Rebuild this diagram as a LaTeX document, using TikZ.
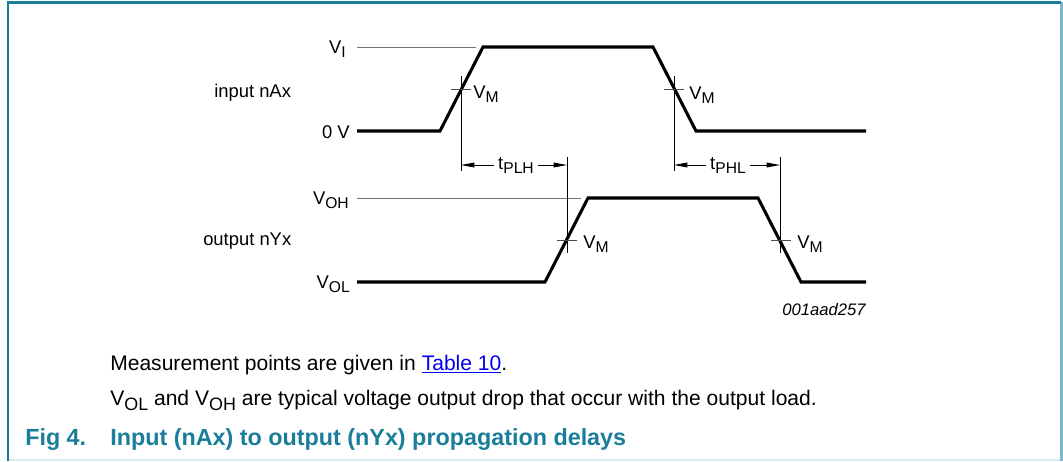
\documentclass[tikz,border=0pt]{standalone}
\usepackage{fontspec}
\setmainfont{Liberation Sans}
\usepackage{graphicx}
\usetikzlibrary{arrows.meta}
\definecolor{nxpteal}{HTML}{1A7D9A}
\definecolor{frameR}{HTML}{7DB7CB}
\definecolor{frameB}{HTML}{DDEBF1}
\definecolor{linkblue}{HTML}{0000EE}
\newcommand\lsub[1]{\raisebox{-0.45ex}{\scalebox{0.85}{#1}}}
\begin{document}
\begin{tikzpicture}[x=0.75pt,y=-0.75pt,
  wave/.style={line width=2.3pt, line join=miter},
  refline/.style={line width=0.75pt, draw=black!55},
  mline/.style={line width=0.6pt},
  tick/.style={line width=0.75pt, draw=black!70},
  lbl/.style={font=\fontsize{13.8}{16}\selectfont, inner sep=0pt},
  body/.style={font=\fontsize{15.8}{18}\selectfont, inner sep=0pt, anchor=base west},
  capt/.style={font=\fontsize{17.5}{20}\bfseries\selectfont, text=nxpteal, inner sep=0pt, anchor=base west},
  dimarrow/.style={line width=0.6pt, -{Triangle[length=10pt,width=3.6pt]}}]
\useasboundingbox (0,0) rectangle (1063,461);
% frame
\draw[line width=1.5pt, draw=frameB] (8,460) -- (1061,460);
\draw[line width=1.8pt, draw=frameR] (1061.5,2) -- (1061.5,461);
\draw[line width=1.6pt, draw=nxpteal] (8,461) -- (8,2.5) -- (1061,2.5);

% input waveform
\coordinate (i0) at (357,131);
\coordinate (i1) at (440,131);
\coordinate (i2) at (483,47);
\coordinate (i3) at (653,47);
\coordinate (i4) at (696,131);
\coordinate (i5) at (866,131);
\coordinate (vi0) at (357,47);
\coordinate (vi1) at (476,47);
\draw[refline] (vi0) -- (vi1);
\draw[wave] (i0) -- (i1) -- (i2) -- (i3) -- (i4) -- (i5);

% output waveform
\coordinate (o0) at (357,282);
\coordinate (o1) at (545,282);
\coordinate (o2) at (588,198);
\coordinate (o3) at (758,198);
\coordinate (o4) at (801,282);
\coordinate (o5) at (866,282);
\coordinate (voh0) at (357,198);
\coordinate (voh1) at (581,198);
\draw[refline] (voh0) -- (voh1);
\draw[wave] (o0) -- (o1) -- (o2) -- (o3) -- (o4) -- (o5);

% measurement verticals
\coordinate (m1t) at (461,76);  \coordinate (m1b) at (461,171);
\coordinate (m2t) at (674,76);  \coordinate (m2b) at (674,171);
\coordinate (m3t) at (567,157); \coordinate (m3b) at (567,253);
\coordinate (m4t) at (780,157); \coordinate (m4b) at (780,253);
\draw[mline] (m1t) -- (m1b);
\draw[mline] (m2t) -- (m2b);
\draw[mline] (m3t) -- (m3b);
\draw[mline] (m4t) -- (m4b);

% VM ticks
\coordinate (k1a) at (451,89); \coordinate (k1b) at (471,89);
\coordinate (k2a) at (664,89); \coordinate (k2b) at (684,89);
\coordinate (k3a) at (557,240); \coordinate (k3b) at (577,240);
\coordinate (k4a) at (771,240); \coordinate (k4b) at (791,240);
\draw[tick] (k1a) -- (k1b);
\draw[tick] (k2a) -- (k2b);
\draw[tick] (k3a) -- (k3b);
\draw[tick] (k4a) -- (k4b);

% level labels
\node[lbl, anchor=base east] (lVI) at (346,53) {V\lsub{I}};
\node[lbl, anchor=base east] (l0V) at (350,138) {0 V};
\node[lbl, anchor=base east] (lVOH) at (349,204) {V\lsub{OH}};
\node[lbl, anchor=base east] (lVOL) at (350,288) {V\lsub{OL}};
\node[lbl, anchor=base west] (lin) at (214,97) {input nAx};
\node[lbl, anchor=base west] (lout) at (203,245) {output nYx};

% VM labels
\node[lbl, anchor=base west] (vm1) at (473,98) {V\lsub{M}};
\node[lbl, anchor=base west] (vm2) at (689,99) {V\lsub{M}};
\node[lbl, anchor=base west] (vm3) at (583,248) {V\lsub{M}};
\node[lbl, anchor=base west] (vm4) at (797,248) {V\lsub{M}};

% delay labels and arrows
\node[lbl, anchor=base] (tplh) at (516,169) {t\lsub{PLH}};
\node[lbl, anchor=base] (tphl) at (728,169) {t\lsub{PHL}};
\coordinate (a1l) at (461,165); \coordinate (a1r) at (567,165);
\coordinate (a2l) at (674,165); \coordinate (a2r) at (780,165);
\draw[dimarrow] ([xshift=-3pt]tplh.west |- a1l) -- (a1l);
\draw[dimarrow] ([xshift=3pt]tplh.east |- a1r) -- (a1r);
\draw[dimarrow] ([xshift=-3pt]tphl.west |- a2l) -- (a2l);
\draw[dimarrow] ([xshift=3pt]tphl.east |- a2r) -- (a2r);

% figure id
\node[lbl, anchor=base east, font=\fontsize{12.5}{14}\itshape\selectfont] (fid) at (866,315) {001aad257};

% notes
\node[body] (n1) at (110,370) {Measurement points are given in \textcolor{linkblue}{\underline{Table 10}}.};
\node[body] (n2) at (110,405) {V\lsub{OL} and V\lsub{OH} are typical voltage output drop that occur with the output load.};
\node[capt] (fig) at (25,445) {Fig 4.};
\node[capt] (ftitle) at (110,445) {Input (nAx) to output (nYx) propagation delays};
\end{tikzpicture}
\end{document}
